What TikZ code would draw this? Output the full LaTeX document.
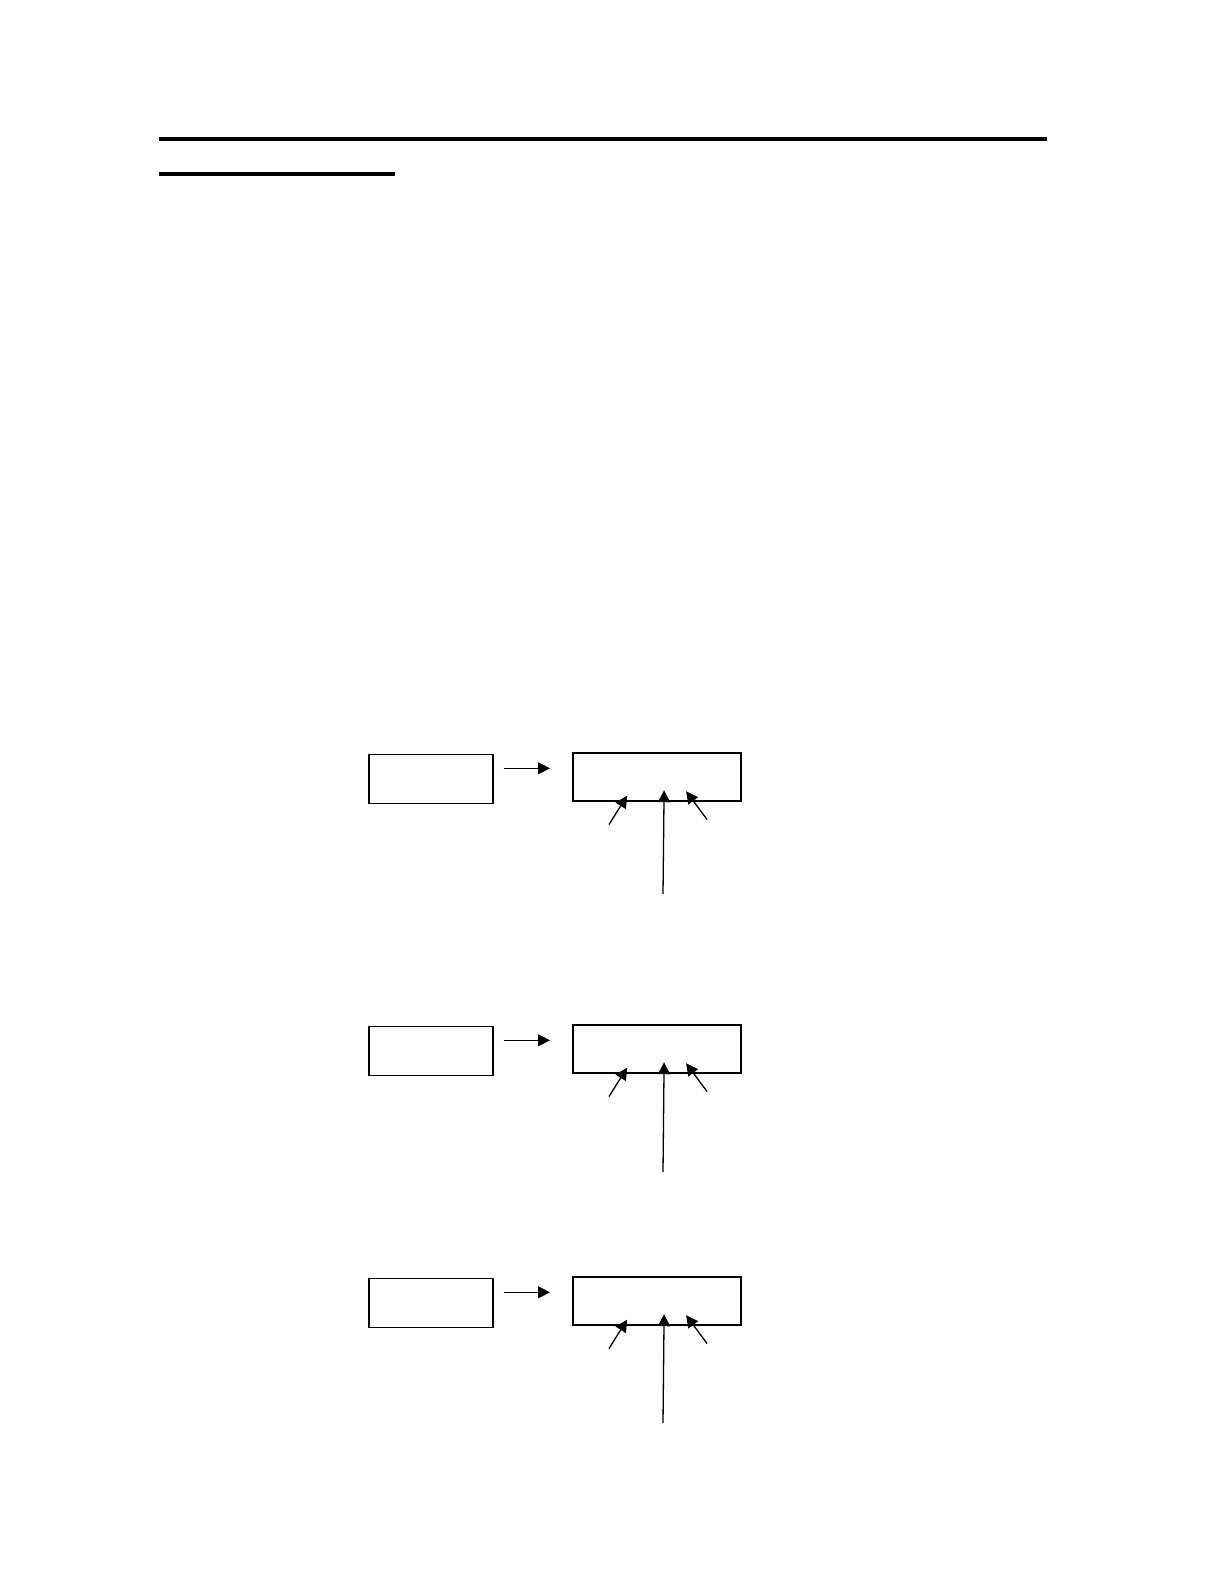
\documentclass[tikz,border=0pt]{standalone}
\usepackage{tikz}
\usetikzlibrary{arrows.meta}
\tikzset{
  rule/.style={draw=black, line width=1.6pt},
  srcbox/.style={draw=black, line width=0.8pt, minimum width=62pt, minimum height=24.5pt, inner sep=0pt, anchor=north west},
  sysbox/.style={draw=black, line width=1.1pt, minimum width=84pt, minimum height=24pt, inner sep=0pt, anchor=north west},
  flow/.style={draw=black, line width=0.65pt, -{Triangle[length=6pt,width=6pt]}},
}
\begin{document}
\begin{tikzpicture}[x=0.5pt,y=-0.5pt]
  \path[fill=white] (0,0) rectangle (1224,1584);
  \useasboundingbox (0,0) rectangle (1224,1584);
  % heading rules
  \draw[rule] (159,139) -- (1047,139);
  \draw[rule] (159,174) -- (395,174);
  % three stages
  \foreach \g/\y/\b in {1/752/142,2/1024/148,3/1276/147}{
    \node[srcbox] (src\g) at (368,\y+1.5) {};
    \node[sysbox] (sys\g) at (572,\y) {};
    \draw[flow, shorten <=5pt, shorten >=11pt] ([yshift=5.25pt]src\g.east) -- ([yshift=5.25pt]src\g.east -| sys\g.west);
    \coordinate (inl\g) at (609,\y+72.5);
    \coordinate (inc\g) at (663,\y+\b);
    \coordinate (inr\g) at (707,\y+67.5);
    \draw[flow] (inl\g) -- ([xshift=-15pt,yshift=3.25pt]sys\g.south);
    \draw[flow] (inc\g) -- ([xshift=3.5pt,yshift=6pt]sys\g.south);
    \draw[flow] (inr\g) -- ([xshift=14.5pt,yshift=5.5pt]sys\g.south);
  }
\end{tikzpicture}
\end{document}
